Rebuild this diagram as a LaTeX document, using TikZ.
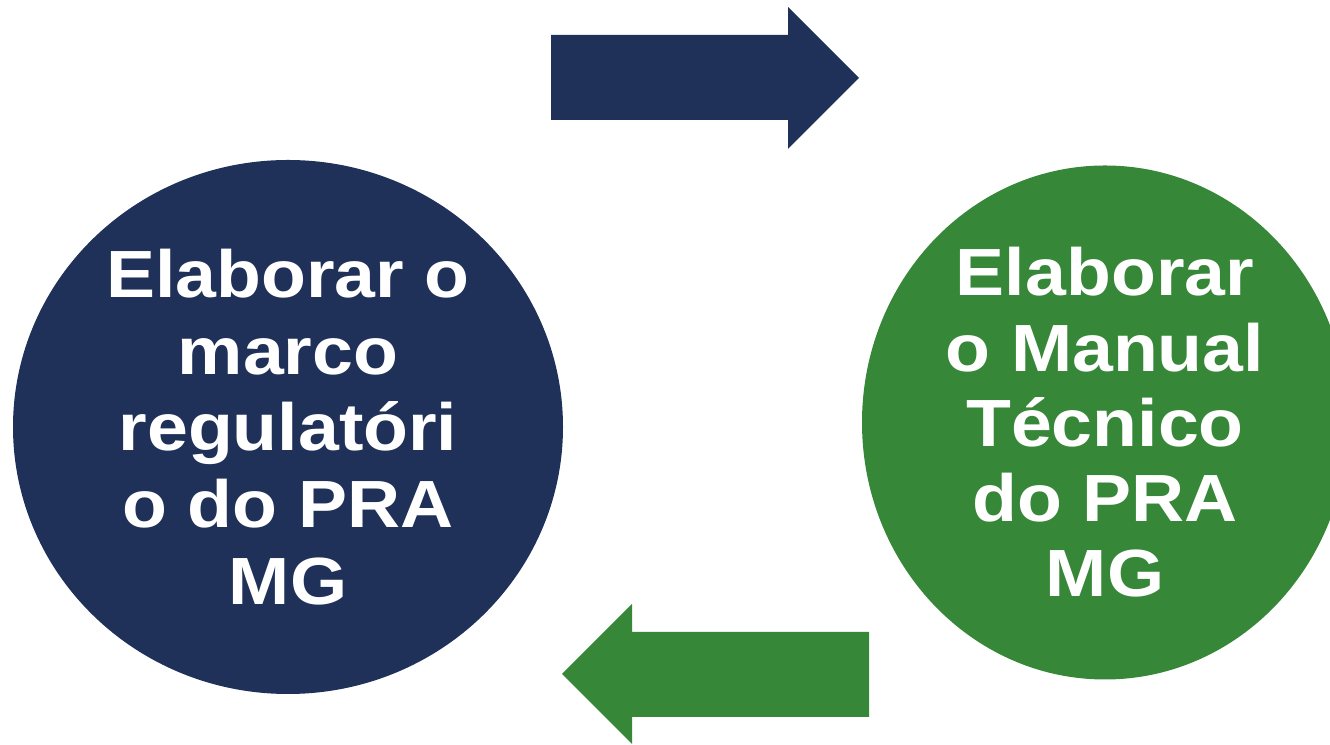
\documentclass[tikz,border=0pt]{standalone}
\usepackage{fontspec}
\setmainfont[FakeStretch=1.1]{Liberation Sans}
\usetikzlibrary{shapes.geometric}
\definecolor{pranavy}{HTML}{1F3159}
\definecolor{pragreen}{HTML}{368738}
\begin{document}
\begin{tikzpicture}[x=1cm, y=1cm,
  bubble/.style={ellipse, inner sep=0pt, align=center, text=white,
    font=\fontsize{38}{43.6}\selectfont\bfseries}]
\useasboundingbox (0,0) rectangle (26.6,14.9);
\begin{scope}
  \clip (0,0) rectangle (26.6,14.9);
  \node[bubble, fill=pranavy, minimum width=11.00cm, minimum height=10.68cm] (marco) at (5.76,6.36)
    {Elaborar o\\marco\\regulatóri\\o do PRA\\MG};
  \node[bubble, fill=pragreen, minimum width=9.72cm, minimum height=10.28cm,
    font=\fontsize{38}{42.8}\selectfont\bfseries] (manual) at (22.10,6.45)
    {Elaborar\\o Manual\\Técnico\\do PRA\\MG};
\end{scope}
  \fill[pranavy] (11.02,14.20) -- (15.76,14.20) -- (15.76,14.76) -- (17.18,13.34)
    -- (15.76,11.92) -- (15.76,12.50) -- (11.02,12.50) -- cycle;
  \fill[pragreen] (17.38,2.26) -- (12.64,2.26) -- (12.64,2.82) -- (11.24,1.42)
    -- (12.64,0.02) -- (12.64,0.56) -- (17.38,0.56) -- cycle;
\end{tikzpicture}
\end{document}
